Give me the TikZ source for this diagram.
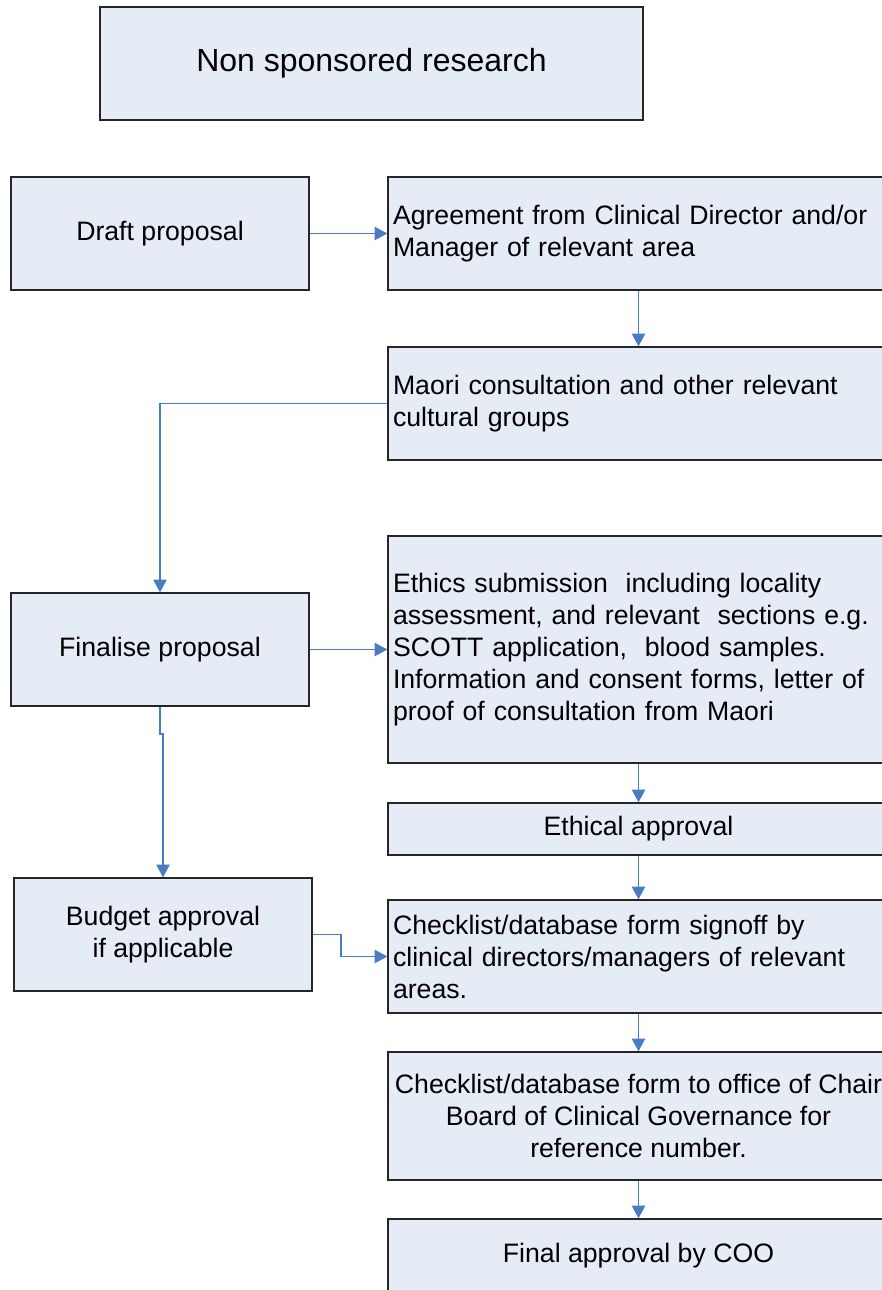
\documentclass[tikz,border=0pt]{standalone}
\usepackage{fontspec}
\setmainfont{Liberation Sans}
\usetikzlibrary{arrows.meta}
\definecolor{boxfill}{HTML}{E6ECF6}
\definecolor{boxline}{HTML}{262626}
\definecolor{conn}{HTML}{4A7CC4}
\tikzset{
  box/.style={draw=boxline, line width=1pt, fill=boxfill, rectangle, inner sep=0pt,
    font=\fontsize{20pt}{24pt}\selectfont, text=black},
  lbox/.style={box, inner xsep=3.75pt, text width=368.25pt, align=left},
  cbox/.style={box, align=center},
  flow/.style={draw=conn, line width=0.8pt, -{Triangle[length=9.5pt,width=10pt]}, color=conn}
}
\begin{document}
\begin{tikzpicture}[x=0.75pt,y=-0.75pt]
\useasboundingbox (0,0) rectangle (882,1290);
\fill[white] (0,0) rectangle (882,1290);
\clip (0,0) rectangle (882,1290);

\node[cbox, font=\fontsize{24pt}{28.8pt}\selectfont, minimum width=407.25pt, minimum height=84.75pt] (title) at (371.5,63.5) {Non sponsored research};

\node[cbox, minimum width=223.5pt, minimum height=84.75pt] (draft) at (160,233.5) {Draft proposal};
\node[lbox, minimum height=84.75pt] (agree) at (638.5,233.5) {Agreement from Clinical Director and/or\\Manager of relevant area};
\node[lbox, minimum height=84.75pt] (maori) at (638.5,403.5) {Maori consultation and other relevant\\cultural groups};
\node[cbox, minimum width=223.5pt, minimum height=84.75pt] (finalise) at (160,649.5) {Finalise proposal};
\node[lbox, minimum height=170.25pt] (ethics) at (638.5,649.5) {Ethics submission~ including locality\\assessment, and relevant~ sections e.g.\\SCOTT application,~ blood samples.\\Information and consent forms, letter of\\proof of consultation from Maori};
\node[cbox, minimum width=375.75pt, minimum height=39pt] (ethical) at (638.5,829) {Ethical approval};
\node[cbox, minimum width=223.5pt, minimum height=84.75pt] (budget) at (163,934.5) {Budget approval\\if applicable};
\node[lbox, minimum height=84.75pt] (sign) at (638.5,956.5) {Checklist/database form signoff by\\clinical directors/managers of relevant\\areas.};
\node[cbox, minimum width=375.75pt, minimum height=96pt] (office) at (638.5,1116) {Checklist/database form to office of Chair\\Board of Clinical Governance for\\reference number.};
\node[cbox, minimum width=375.75pt, minimum height=55.5pt] (coo) at (638.5,1256) {Final approval by COO};

\coordinate (j1) at (160,734);
\coordinate (j2) at (163,734);
\coordinate (b1) at (341,934.5);
\coordinate (b2) at (341,956.5);

\draw[flow] (draft) -- (agree);
\draw[flow] (agree) -- (maori);
\draw[flow] (maori.west) -| (finalise.north);
\draw[flow] (finalise) -- (ethics);
\draw[flow] (finalise.south) -- (j1) -- (j2) -- (budget.north);
\draw[flow] (ethics) -- (ethical);
\draw[flow] (ethical) -- (sign);
\draw[flow] (budget.east) -- (b1) -- (b2) -- (sign.west);
\draw[flow] (sign) -- (office);
\draw[flow] (office) -- (coo);
\end{tikzpicture}
\end{document}
